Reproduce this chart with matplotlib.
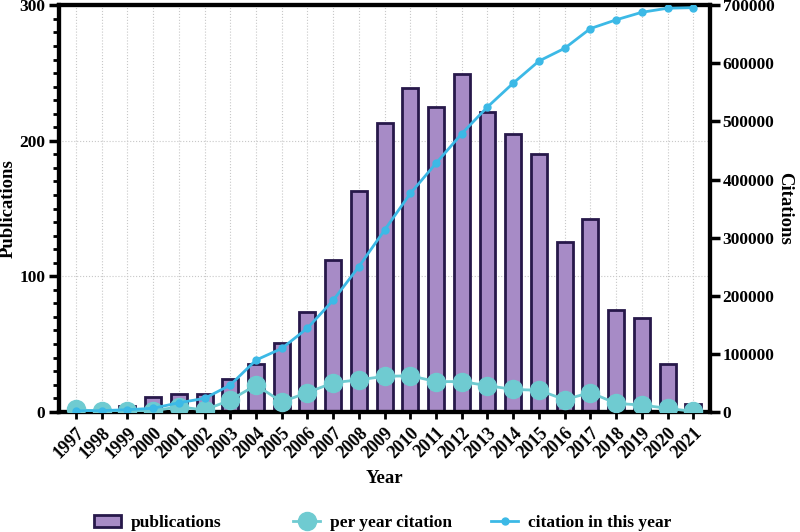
import matplotlib.pyplot as plt
import numpy as np

years = [str(y) for y in range(1997, 2022)]
publications = [1, 1, 4, 11, 13, 13, 24, 35, 51, 74, 112, 163, 213,
                239, 225, 249, 221, 205, 190, 125, 142, 75, 69, 35, 6]
per_year_citation = [4000, 500, 1000, 1500, 8600, 3000, 20000, 46000, 17000, 33000,
                     50000, 55000, 61000, 62000, 52000, 52000, 45000, 38500, 37000,
                     21000, 33000, 14500, 11500, 6000, 500]
citation_this_year = [1500, 2000, 3500, 6000, 15500, 23000, 46000, 89000, 109000, 144000,
                      192000, 250000, 313000, 376000, 428000, 479000, 525000, 566000,
                      604000, 626000, 660000, 675000, 688000, 695000, 696000]

plt.rcParams['font.family'] = ['Liberation Serif', 'DejaVu Serif']
plt.rcParams['font.weight'] = 'bold'

fig = plt.figure(figsize=(8, 5.32), dpi=100)
ax = fig.add_axes([0.074, 0.226, 0.8135, 0.764])
ax2 = ax.twinx()

x = np.arange(len(years))

ax.set_axisbelow(True)
ax.grid(True, color='#c8c8c8', linestyle=':', linewidth=0.8)
bars = ax.bar(x, publications, width=0.62, color='#a78bc6', edgecolor='#27184a',
              linewidth=2, label='publications', zorder=2)

l1, = ax2.plot(x, per_year_citation, color='#6fcbd1', linewidth=2, marker='o',
               markersize=13, label='per year citation', zorder=3)
l2, = ax2.plot(x, citation_this_year, color='#3cb9e6', linewidth=2, marker='o',
               markersize=5, label='citation in this year', zorder=4)

ax.set_xlim(-0.65, len(years) - 0.35)
ax.set_ylim(0, 300)
ax2.set_ylim(0, 700000)
ax.set_yticks([0, 100, 200, 300])
ax.set_yticks(np.arange(0, 301, 10), minor=True)
ax2.set_yticks(np.arange(0, 700001, 100000))

ax.set_xticks(x)
ax.set_xticklabels(years, rotation=45, ha='right', rotation_mode='anchor',
                   fontsize=13, fontweight='bold')
ax.tick_params(axis='x', length=5, width=2, pad=4)
ax.tick_params(axis='y', which='major', length=7, width=2.5, labelsize=12.5, pad=3)
ax.tick_params(axis='y', which='minor', length=4, width=2)
ax2.tick_params(axis='y', length=7, width=2.5, labelsize=12.5, pad=2)

for a in (ax, ax2):
    for s in a.spines.values():
        s.set_linewidth(3)

ax.set_xlabel('Year', fontsize=13.5, fontweight='bold', labelpad=6)
ax.set_ylabel('Publications', fontsize=13.5, fontweight='bold')
ax.yaxis.set_label_coords(-0.065, 0.5)
ax2.set_ylabel('Citations', fontsize=13.5, fontweight='bold', rotation=270)
ax2.yaxis.set_label_coords(1.128, 0.5)

# three legend entries placed separately, as in the original layout
leg_y = 1 - 523 / 532
for h, x0 in [(bars, 78), (l1, 277), (l2, 475)]:
    fig.legend(handles=[h], loc='center left', bbox_to_anchor=(x0 / 800, leg_y),
               frameon=False, prop={'size': 12.5, 'weight': 'bold'},
               handlelength=1.6, handletextpad=0.55)

fig.savefig('out.png', dpi=100)
